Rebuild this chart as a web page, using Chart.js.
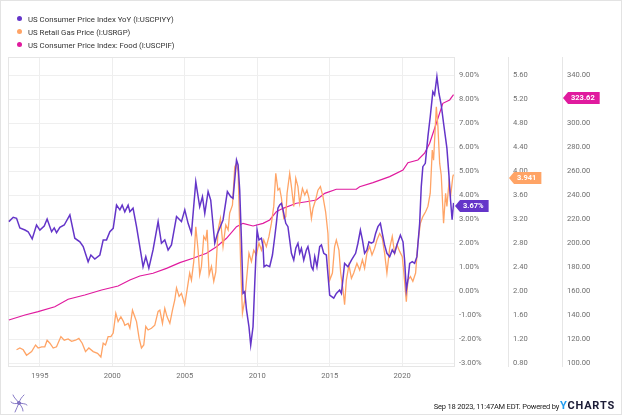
<!DOCTYPE html>
<html>
<head>
<meta charset="utf-8">
<script src="https://cdn.jsdelivr.net/npm/chart.js@4.4.0/dist/chart.umd.min.js"></script>
<style>
    html, body { margin: 0; padding: 0; background: #fff; }
    #wrap { position: relative; width: 624px; height: 416px; font-family: Roboto, sans-serif; overflow: hidden; }
    #frame { position: absolute; left: 0; top: 0; width: 620px; height: 413px; border: 1px solid #e3e3e3; pointer-events: none; }
    canvas { position: absolute; left: 0; top: 0; }
    #legend { position: absolute; left: 17px; top: 12.5px; font-size: 7.8px; color: #333; }
    .item { height: 13px; line-height: 13px; white-space: nowrap; }
    .dot { display: inline-block; width: 5px; height: 5px; border-radius: 50%; margin-right: 6px; vertical-align: middle; position: relative; top: -1px; }
    #footer { position: absolute; right: 9px; top: 399px; display: flex; align-items: baseline; white-space: nowrap; }
    #stamp { font-size: 7.5px; letter-spacing: -0.2px; color: #222; margin-right: 1px; }
    #brand { font-size: 11px; font-weight: bold; letter-spacing: 0.8px; color: #1b1b36; }
    #brand span { color: #1e9bf0; }
    #logo { position: absolute; left: 10px; top: 393px; }
</style>
</head>
<body>
<div id="wrap">
    <canvas id="cpiChart" width="624" height="416"></canvas>
    <div id="legend"></div>
    <svg id="logo" width="18" height="20" viewBox="0 0 18 20">
        <g fill="none" stroke="#7a6cc0" stroke-width="0.9" stroke-linecap="round">
            <path d="M9 10 C7 7 4 5 3 2"/>
            <path d="M9 10 C10 6 12 4 14 2"/>
            <path d="M9 10 C6 11 3 11 1 9"/>
            <path d="M9 10 C12 11 15 10 17 12"/>
            <path d="M9 10 C8 13 6 16 5 19"/>
            <path d="M9 10 C11 13 13 15 13 18"/>
            <circle cx="9" cy="10" r="1.6"/>
        </g>
    </svg>
    <div id="footer"><span id="stamp">Sep 18 2023, 11:47AM EDT. Powered by</span><span id="brand"><span>Y</span>CHARTS</span></div>
    <div id="frame"></div>
</div>
<script>
// series labels and colours
const seriesLabels = ['US Consumer Price Index YoY (I:USCPIYY)', 'US Retail Gas Price (I:USRGP)', 'US Consumer Price Index: Food (I:USCPIF)'];
const seriesColors = ['#6435c9', '#ffa466', '#e01a9e'];

// tick labels
const yearTicks = [1995, 2000, 2005, 2010, 2015, 2020];
const pctTicks = [-3, -2, -1, 0, 1, 2, 3, 4, 5, 6, 7, 8, 9];
const gasTicks = [0.8, 1.2, 1.6, 2.0, 2.4, 2.8, 3.2, 3.6, 4.0, 4.4, 4.8, 5.2, 5.6];
const foodTicks = [100, 120, 140, 160, 180, 200, 220, 240, 260, 280, 300, 320, 340];

// CPI YoY (%)
const cpiDates = [1992.86, 1993.16, 1993.39, 1993.62, 1993.97, 1994.19, 1994.47, 1994.77, 1995.00, 1995.30,
    1995.50, 1995.81, 1995.99, 1996.15, 1996.38, 1996.68, 1997.07, 1997.41, 1997.76, 1997.99,
    1998.33, 1998.52, 1998.79, 1999.14, 1999.37, 1999.60, 1999.83, 2000.06, 2000.29, 2000.52,
    2000.68, 2000.86, 2001.09, 2001.21, 2001.43, 2001.67, 2002.01, 2002.12, 2002.31, 2002.52,
    2002.81, 2003.16, 2003.39, 2003.62, 2003.85, 2004.08, 2004.43, 2004.77, 2005.00, 2005.23,
    2005.46, 2005.76, 2006.03, 2006.22, 2006.38, 2006.61, 2006.79, 2007.07, 2007.26, 2007.64,
    2007.94, 2008.17, 2008.33, 2008.57, 2008.68, 2008.79, 2008.91, 2009.02, 2009.14, 2009.26,
    2009.43, 2009.55, 2009.71, 2009.83, 2009.99, 2010.12, 2010.29, 2010.40, 2010.47, 2010.63,
    2010.86, 2011.05, 2011.21, 2011.32, 2011.43, 2011.55, 2011.67, 2011.78, 2011.97, 2012.12,
    2012.24, 2012.36, 2012.52, 2012.66, 2012.81, 2012.93, 2013.05, 2013.21, 2013.39, 2013.50,
    2013.62, 2013.74, 2013.85, 2013.97, 2014.12, 2014.31, 2014.43, 2014.59, 2014.77, 2015.00,
    2015.28, 2015.46, 2015.69, 2015.81, 2016.03, 2016.26, 2016.50, 2016.79, 2016.95, 2017.12,
    2017.26, 2017.41, 2017.57, 2017.71, 2017.88, 2018.03, 2018.17, 2018.33, 2018.50, 2018.63,
    2018.79, 2018.95, 2019.14, 2019.32, 2019.48, 2019.64, 2019.88, 2020.06, 2020.17, 2020.29,
    2020.40, 2020.52, 2020.70, 2020.86, 2021.02, 2021.21, 2021.32, 2021.43, 2021.60, 2021.78,
    2021.94, 2022.12, 2022.24, 2022.40, 2022.54, 2022.70, 2022.86, 2023.00, 2023.09, 2023.23,
    2023.34, 2023.45, 2023.55];
const cpiValues = [2.89, 3.07, 3.03, 2.63, 2.54, 2.47, 2.17, 2.75, 2.54, 2.71,
    3.00, 2.47, 2.63, 2.43, 2.65, 2.75, 3.17, 2.20, 2.05, 1.85,
    1.22, 1.50, 1.33, 1.50, 2.13, 2.13, 2.47, 2.61, 3.58, 3.38,
    3.58, 3.30, 3.58, 3.30, 3.45, 2.68, 1.43, 1.01, 1.43, 0.95,
    1.71, 2.89, 1.99, 2.13, 1.71, 1.92, 3.10, 2.89, 3.38, 2.82,
    2.40, 4.55, 3.51, 3.93, 3.24, 4.14, 3.79, 1.99, 2.40, 2.96,
    4.14, 3.93, 3.86, 5.46, 5.25, 4.21, 2.13, -0.10, -0.03, -0.79,
    -1.49, -2.25, -1.49, 0.32, 2.54, 2.13, 2.20, 1.85, 1.01, 1.08,
    1.01, 1.50, 2.26, 2.82, 3.45, 3.58, 3.65, 3.38, 2.82, 2.68,
    2.13, 1.57, 1.29, 1.78, 1.99, 1.57, 1.78, 1.29, 1.71, 1.85,
    1.50, 1.01, 0.88, 1.43, 1.01, 1.85, 1.92, 1.57, 1.50, -0.17,
    -0.30, -0.10, 0.04, -0.10, 1.15, 1.01, 1.29, 1.57, 1.99, 2.54,
    2.13, 1.57, 1.71, 2.05, 1.99, 2.05, 2.40, 2.68, 2.82, 2.40,
    1.92, 1.57, 1.43, 1.71, 1.57, 1.92, 2.33, 2.05, 1.29, 0.04,
    0.46, 1.15, 1.22, 1.15, 1.43, 2.82, 4.35, 5.18, 5.32, 6.43,
    7.26, 8.30, 8.17, 8.93, 8.24, 7.75, 6.99, 6.36, 5.95, 4.83,
    3.79, 2.97, 3.67];

// Retail gas price ($/gal)
const gasDates = [1993.39, 1993.62, 1993.85, 1994.08, 1994.43, 1994.70, 1994.88, 1995.12, 1995.34, 1995.50,
    1995.69, 1995.92, 1996.15, 1996.45, 1996.68, 1996.95, 1997.19, 1997.46, 1997.69, 1997.92,
    1998.15, 1998.38, 1998.68, 1998.98, 1999.21, 1999.37, 1999.53, 1999.71, 1999.90, 2000.06,
    2000.24, 2000.40, 2000.59, 2000.77, 2000.86, 2001.09, 2001.21, 2001.39, 2001.55, 2001.67,
    2001.85, 2002.01, 2002.17, 2002.31, 2002.47, 2002.70, 2002.93, 2003.16, 2003.28, 2003.46,
    2003.62, 2003.78, 2003.97, 2004.15, 2004.31, 2004.43, 2004.61, 2004.77, 2005.00, 2005.23,
    2005.34, 2005.46, 2005.62, 2005.76, 2005.92, 2006.03, 2006.15, 2006.31, 2006.45, 2006.54,
    2006.68, 2006.84, 2007.00, 2007.14, 2007.30, 2007.46, 2007.64, 2007.83, 2007.99, 2008.10,
    2008.29, 2008.45, 2008.57, 2008.68, 2008.75, 2008.86, 2008.98, 2009.14, 2009.26, 2009.43,
    2009.60, 2009.76, 2009.94, 2010.12, 2010.29, 2010.45, 2010.63, 2010.81, 2010.98, 2011.14,
    2011.28, 2011.43, 2011.55, 2011.67, 2011.83, 2011.97, 2012.06, 2012.24, 2012.36, 2012.52,
    2012.66, 2012.81, 2012.93, 2013.12, 2013.28, 2013.43, 2013.57, 2013.74, 2013.85, 2014.03,
    2014.19, 2014.36, 2014.54, 2014.72, 2014.88, 2015.00, 2015.19, 2015.34, 2015.46, 2015.64,
    2015.76, 2015.92, 2016.03, 2016.15, 2016.33, 2016.50, 2016.66, 2016.88, 2017.07, 2017.26,
    2017.41, 2017.57, 2017.76, 2017.92, 2018.10, 2018.26, 2018.45, 2018.63, 2018.79, 2018.95,
    2019.14, 2019.32, 2019.48, 2019.64, 2019.83, 2020.01, 2020.12, 2020.29, 2020.40, 2020.57,
    2020.74, 2020.93, 2021.09, 2021.26, 2021.43, 2021.62, 2021.78, 2021.94, 2022.08, 2022.17,
    2022.36, 2022.47, 2022.59, 2022.70, 2022.86, 2023.00, 2023.09, 2023.23, 2023.34, 2023.50,
    2023.55];
const gasValues = [1.02, 1.05, 1.02, 0.93, 0.99, 1.10, 1.05, 1.07, 1.07, 1.18,
    1.13, 1.05, 1.07, 1.24, 1.18, 1.20, 1.16, 1.18, 1.21, 1.13,
    0.99, 1.05, 0.99, 0.96, 0.90, 1.13, 1.10, 1.24, 1.24, 1.30,
    1.63, 1.49, 1.57, 1.49, 1.43, 1.46, 1.38, 1.68, 1.57, 1.49,
    1.21, 1.05, 1.10, 1.41, 1.35, 1.38, 1.43, 1.66, 1.68, 1.46,
    1.71, 1.57, 1.46, 1.68, 1.85, 2.05, 1.91, 1.96, 1.77, 2.13,
    2.30, 2.18, 2.49, 3.07, 2.68, 2.27, 2.41, 2.91, 2.85, 3.02,
    2.27, 2.41, 2.16, 2.32, 3.02, 3.21, 2.74, 3.10, 3.02, 3.30,
    3.43, 4.07, 4.13, 3.99, 3.41, 2.41, 1.63, 1.85, 2.18, 2.63,
    2.49, 2.68, 2.60, 2.80, 2.68, 2.85, 2.74, 2.91, 3.13, 3.41,
    3.96, 3.68, 3.71, 3.55, 3.21, 3.24, 3.63, 3.96, 3.74, 3.41,
    3.88, 3.74, 3.46, 3.71, 3.60, 3.68, 3.55, 3.21, 3.38, 3.52,
    3.68, 3.74, 3.57, 3.32, 2.96, 2.18, 2.30, 2.74, 2.85, 2.68,
    2.30, 2.02, 1.77, 2.18, 2.43, 2.21, 2.30, 2.46, 2.35, 2.52,
    2.38, 2.63, 2.74, 2.60, 2.71, 2.85, 2.96, 2.88, 2.63, 2.30,
    2.71, 2.91, 2.63, 2.77, 2.66, 2.57, 2.30, 1.82, 2.18, 2.24,
    2.16, 2.30, 2.80, 3.13, 3.24, 3.32, 3.41, 3.63, 4.35, 4.18,
    5.07, 4.74, 4.13, 3.93, 3.13, 3.63, 3.41, 3.80, 3.57, 3.91,
    3.941];

// CPI: Food (index)
const foodDates = [1992.86, 1993.97, 1994.88, 1996.03, 1996.95, 1998.10, 1999.26, 2000.40, 2001.21, 2001.90,
    2002.81, 2003.74, 2004.66, 2005.57, 2006.50, 2007.19, 2007.88, 2008.57, 2009.02, 2009.71,
    2010.40, 2010.86, 2011.32, 2011.78, 2012.70, 2013.39, 2014.08, 2014.66, 2015.46, 2016.03,
    2016.84, 2017.07, 2017.99, 2019.14, 2020.06, 2020.40, 2021.09, 2021.55, 2021.90, 2022.36,
    2022.81, 2023.28, 2023.55];
const foodValues = [135.8, 140.0, 142.8, 146.9, 153.1, 156.7, 160.8, 164.2, 169.2, 172.5,
    174.8, 178.9, 183.6, 187.3, 191.4, 196.9, 203.9, 213.6, 216.4, 214.2,
    216.4, 219.2, 226.1, 228.9, 233.1, 234.4, 235.8, 241.4, 244.8, 244.8,
    244.8, 246.9, 250.3, 255.3, 260.8, 266.9, 269.2, 274.8, 283.1, 299.8,
    316.4, 319.2, 323.62];

function toPoints(dates, values) {
    return dates.map((d, i) => ({ x: d, y: values[i] }));
}

// HTML legend
const legendBox = document.getElementById('legend');
seriesLabels.forEach((label, i) => {
    const item = document.createElement('div');
    item.className = 'item';
    item.innerHTML = `<span class="dot" style="background:${seriesColors[i]}"></span>${label}`;
    legendBox.appendChild(item);
});

const tickFont = { family: 'Roboto', size: 7.6 };
const tickColor = '#6f6f6f';

// Chart area outline
const plotFrame = {
    id: 'plotFrame',
    beforeDatasetsDraw(chart) {
        const { ctx, chartArea } = chart;
        ctx.save();
        ctx.strokeStyle = '#e6e6e6';
        ctx.lineWidth = 1;
        ctx.strokeRect(chartArea.left + 0.5, chartArea.top + 0.5, chartArea.right - chartArea.left, chartArea.bottom - chartArea.top);
        ctx.restore();
    }
};

// Last value tags on the right axes
const endTags = {
    id: 'endTags',
    afterDraw(chart) {
        const ctx = chart.ctx;
        ctx.save();
        ctx.font = 'bold 7.5px Roboto';
        ctx.textBaseline = 'middle';
        chart.data.datasets.forEach((ds) => {
            const scale = chart.scales[ds.yAxisID];
            const last = ds.data[ds.data.length - 1].y;
            const text = ds.tagFormat(last);
            const y = Math.round(scale.getPixelForValue(last)) + 3;
            const x = scale.left + 1;
            const w = ctx.measureText(text).width + 13;
            ctx.fillStyle = ds.borderColor;
            ctx.beginPath();
            ctx.moveTo(x, y);
            ctx.lineTo(x + 5, y - 6);
            ctx.lineTo(x + w, y - 6);
            ctx.lineTo(x + w, y + 6);
            ctx.lineTo(x + 5, y + 6);
            ctx.closePath();
            ctx.fill();
            ctx.fillStyle = '#fff';
            ctx.fillText(text, x + 8, y + 0.5);
        });
        ctx.restore();
    }
};

function rightAxis(ticks, fmt, min, max, weight, width, showGrid) {
    return {
        type: 'linear',
        position: 'right',
        weight: weight,
        min: min,
        max: max,
        afterBuildTicks: (axis) => { axis.ticks = ticks.map(v => ({ value: v })); },
        afterFit: (axis) => { axis.width = width; },
        grid: { display: showGrid, color: '#efefef', drawTicks: false },
        border: { display: true, color: '#e6e6e6' },
        ticks: { font: tickFont, color: tickColor, padding: 5, callback: fmt }
    };
}

const ctx = document.getElementById('cpiChart').getContext('2d');
new Chart(ctx, {
    type: 'line',
    data: {
        datasets: [{
            label: seriesLabels[0],
            data: toPoints(cpiDates, cpiValues),
            yAxisID: 'yPct',
            borderColor: seriesColors[0],
            borderWidth: 1.5,
            tagFormat: v => v.toFixed(2) + '%'
        }, {
            label: seriesLabels[1],
            data: toPoints(gasDates, gasValues),
            yAxisID: 'yGas',
            borderColor: seriesColors[1],
            borderWidth: 1.3,
            tagFormat: v => v.toFixed(3)
        }, {
            label: seriesLabels[2],
            data: toPoints(foodDates, foodValues),
            yAxisID: 'yFood',
            borderColor: seriesColors[2],
            borderWidth: 1.2,
            tagFormat: v => v.toFixed(2)
        }]
    },
    options: {
        responsive: false,
        animation: false,
        layout: { padding: { top: 57, left: 8, right: 4, bottom: 30 } },
        elements: { point: { radius: 0 }, line: { tension: 0 } },
        plugins: {
            legend: { display: false },
            tooltip: { enabled: false }
        },
        scales: {
            x: {
                type: 'linear',
                min: 1992.8,
                max: 2023.58,
                afterBuildTicks: (axis) => { axis.ticks = yearTicks.map(v => ({ value: v })); },
                afterFit: (axis) => { axis.height = 20; },
                grid: { color: '#eeeeee', drawTicks: false },
                border: { display: true, color: '#e6e6e6' },
                ticks: { font: tickFont, color: tickColor, padding: 6, maxRotation: 0, callback: v => String(v) }
            },
            yPct: rightAxis(pctTicks, v => v.toFixed(2) + '%', -3.125, 9.75, 1, 54, true),
            yGas: rightAxis(gasTicks, v => v.toFixed(2), 0.75, 5.9, 2, 54, false),
            yFood: rightAxis(foodTicks, v => v.toFixed(2), 97.5, 355, 3, 58, false)
        }
    },
    plugins: [plotFrame, endTags]
});
</script>
</body>
</html>
